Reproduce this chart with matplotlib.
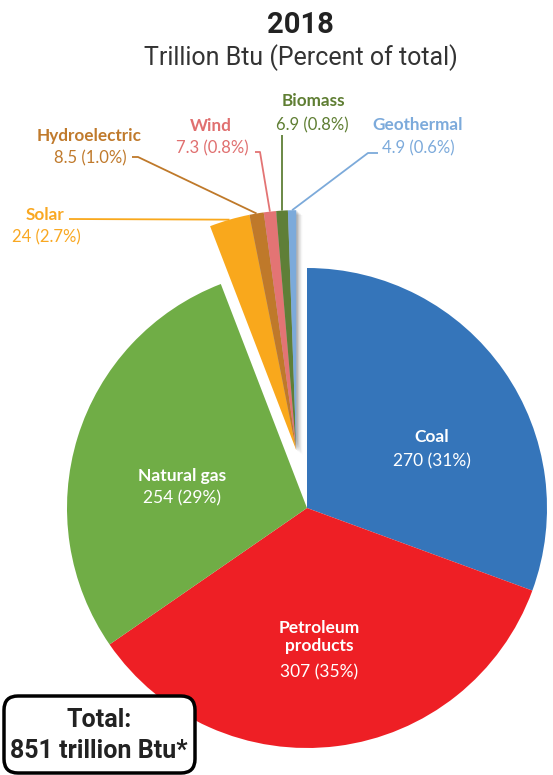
import matplotlib
matplotlib.use('Agg')
import matplotlib.pyplot as plt
import numpy as np
from matplotlib.patches import Wedge, FancyBboxPatch

# ---- data ----
categories = ['Coal', 'Petroleum\nproducts', 'Natural gas', 'Solar',
              'Hydroelectric', 'Wind', 'Biomass', 'Geothermal']
values = [270, 307, 254, 24, 8.5, 7.3, 6.9, 4.9]
value_labels = ['270', '307', '254', '24', '8.5', '7.3', '6.9', '4.9']
percents = ['31%', '35%', '29%', '2.7%', '1.0%', '0.8%', '0.8%', '0.6%']
colors = ['#3575BA', '#EE1F25', '#70AD46', '#F9A81C',
          '#BF792A', '#E37474', '#5F7F37', '#7CAADA']
text_colors = ['white', 'white', 'white', '#F9A822',
               '#C07A2C', '#E07070', '#5F7E33', '#7CAADB']
title = '2018'
subtitle = 'Trillion Btu (Percent of total)'
total_lines = ['Total:', '851 trillion Btu*']

W, H = 553, 775
fig = plt.figure(figsize=(W / 100, H / 100), dpi=100)
ax = fig.add_axes([0, 0, 1, 1])


def Y(y):
    return H - y


cx, cy, R = 307, Y(508), 240
wedges, _ = ax.pie(values, colors=colors, startangle=90, counterclock=False,
                   center=(cx, cy), radius=R, frame=True,
                   wedgeprops=dict(linewidth=0))
ax.set_xlim(0, W)
ax.set_ylim(0, H)
ax.set_aspect('equal')
ax.axis('off')

# explode the small slices as a group
small = wedges[3:]
t1 = min(w.theta1 for w in small)
t2 = max(w.theta2 for w in small)
mid = np.deg2rad((t1 + t2) / 2)
off = 0.245 * R
gx, gy = cx + off * np.cos(mid), cy + off * np.sin(mid)
for w in small:
    w.set_center((gx, gy))
    w.set_zorder(2)

# soft shadow behind the group
for k, a in [(1.5, 0.12), (3, 0.10), (4.5, 0.07), (6, 0.04)]:
    ax.add_patch(Wedge((gx + k, gy - k * 0.8), R, t1, t2, color='black',
                       alpha=a, lw=0, zorder=1.5))

# inside labels
inner = {0: [(432, 437), (432, 461)],
         1: [(319, 637), (319, 672)],
         2: [(182, 476), (182, 498)]}
for i, ((nx, ny), (vx, vy)) in inner.items():
    ax.text(nx, Y(ny), categories[i], ha='center', va='center', color='white',
            fontsize=12.5, fontweight='bold', family='Lato', linespacing=1.2,
            zorder=5)
    ax.text(vx, Y(vy), f'{value_labels[i]} ({percents[i]})', ha='center',
            va='center', color='white', fontsize=12.5, family='Lato', zorder=5)

# outside labels with leader lines
outer = {3: [(45, 215), (46, 237), [(69, 219)]],
         4: [(89, 136), (90, 158), [(132, 157), (138, 157)]],
         5: [(211, 126), (212, 148), [(255, 152), (260, 152)]],
         6: [(313, 101), (312, 125), [(282, 135)]],
         7: [(418, 125), (418, 148), [(378, 153), (368, 153)]]}
for i, ((nx, ny), (vx, vy), pts) in outer.items():
    w = wedges[i]
    ang = np.deg2rad((w.theta1 + w.theta2) / 2)
    ex, ey = gx + R * np.cos(ang), gy + R * np.sin(ang)
    xs = [p[0] for p in pts] + [ex]
    ys = [Y(p[1]) for p in pts] + [ey]
    ax.plot(xs, ys, color=colors[i], lw=1.3, zorder=1.2,
            solid_capstyle='butt')
    ax.text(nx, Y(ny), categories[i], ha='center', va='center',
            color=text_colors[i], fontsize=12.3, fontweight='bold',
            family='Lato', zorder=5)
    ax.text(vx, Y(vy), f'{value_labels[i]} ({percents[i]})', ha='center',
            va='center', color=text_colors[i], fontsize=12, family='Lato',
            zorder=5)

# titles
ax.text(300, Y(33), title, ha='center', va='baseline', fontsize=21,
        fontweight='bold', family='Roboto', color='#222222')
ax.text(301, Y(65), subtitle, ha='center', va='baseline', fontsize=18,
        family='Roboto', color='#333333')

# total box
ax.add_patch(FancyBboxPatch((4, Y(773)), 191, 77,
                            boxstyle='round,pad=0,rounding_size=14',
                            lw=2.5, ec='black', fc='white', zorder=6))
ax.text(99, Y(720), total_lines[0], ha='center', va='center', fontsize=18,
        fontweight='bold', family='Roboto', color='#222222', zorder=7)
ax.text(99, Y(751), total_lines[1], ha='center', va='center', fontsize=18,
        fontweight='bold', family='Roboto', color='#222222', zorder=7)

fig.savefig('out.png', dpi=100)
